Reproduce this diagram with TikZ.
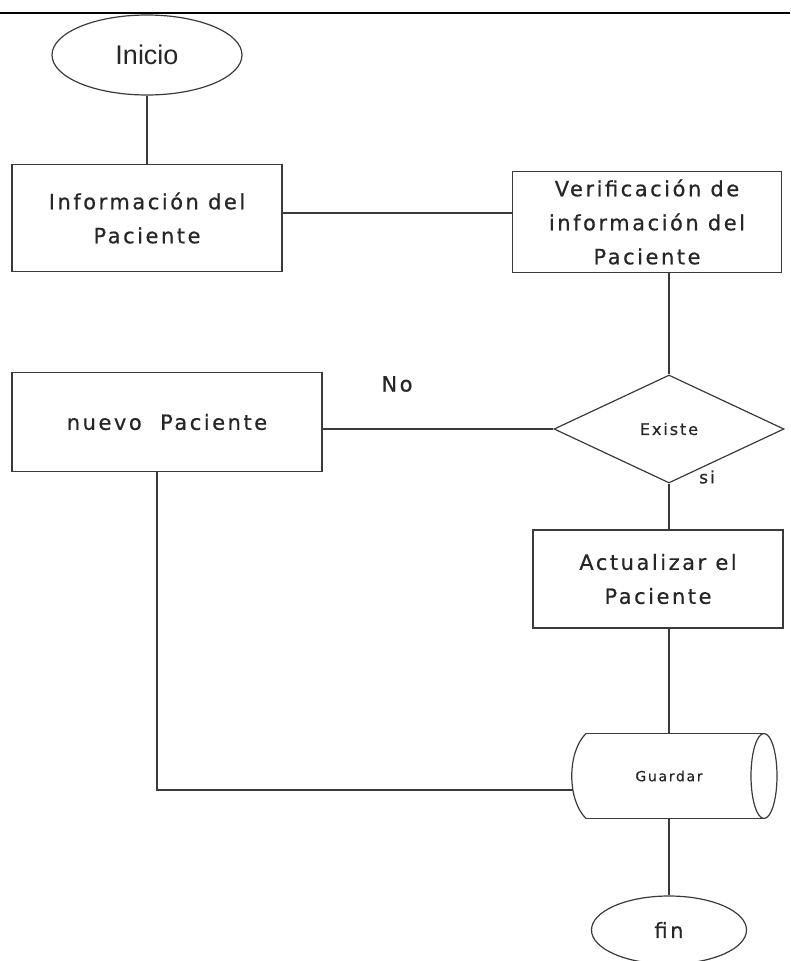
\documentclass[tikz,border=0pt]{standalone}
\usepackage{fontspec}
\setmainfont{DejaVu Sans}[LetterSpace=12, FakeBold=0.6]
\newfontfamily\iniciofont{Liberation Sans}
\usetikzlibrary{shapes.geometric}

\definecolor{linea}{HTML}{3A3A3A}
\definecolor{texto}{HTML}{262626}

\begin{document}
\begin{tikzpicture}[x=1pt,y=-1pt,
  conector/.style={draw=linea, line width=1.2pt},
  proceso/.style={draw=linea, line width=1.2pt, align=center, text=texto,
    font=\fontsize{21}{34}\selectfont},
  terminal/.style={ellipse, draw=linea, line width=1.2pt, inner sep=0pt, text=texto},
  decision/.style={diamond, draw=linea, line width=1.2pt, inner sep=0pt, aspect=2.13,
    minimum width=230pt, minimum height=108pt, text=texto, font=\fontsize{16}{18}\selectfont},
  etiqueta/.style={text=texto, font=\fontsize{21}{24}\selectfont}]
  \useasboundingbox (0,0) rectangle (790,961);
  \draw[line width=1.3pt] (0,13) -- (790,13);

  \node[terminal, minimum width=190pt, minimum height=80pt,
    font=\iniciofont\fontsize{27}{30}\selectfont] (inicio) at (147,55) {Inicio};
  \node[proceso, minimum width=270pt, minimum height=107pt] (info) at (147,218)
    {Información del\\Paciente};
  \node[proceso, minimum width=269pt, minimum height=101pt] (verif) at (647,222)
    {Verificación de\\información del\\Paciente};
  \node[decision] (existe) at (669,429) {Existe};
  \node[proceso, minimum width=310pt, minimum height=99pt] (nuevo) at (167,422)
    {nuevo~~Paciente};
  \node[proceso, minimum width=250pt, minimum height=98pt] (actualizar) at (658,579)
    {Actualizar el\\Paciente};
  \node[text=texto, font=\fontsize{14}{16}\selectfont, minimum width=192pt,
    minimum height=85pt] (guardar) at (669,776) {Guardar};
  \node[terminal, minimum width=155pt, minimum height=68pt,
    font=\fontsize{21}{24}\selectfont] (fin) at (669,930) {fin};

  \node[etiqueta] (no) at (397,384) {No};
  \node[etiqueta, font=\fontsize{17}{19}\selectfont] (si) at (707,477) {si};

  % cilindro de guardar
  \draw[conector] (586,733.5) -- (764,733.5) (586,818.5) -- (764,818.5);
  \draw[conector] (764,776) ellipse [x radius=13pt, y radius=42.5pt];
  \draw[conector] (586,733.5) .. controls (567,752) and (567,800) .. (586,818.5);

  % conectores
  \draw[conector] (inicio.south) -- (info.north);
  \draw[conector] ([yshift=5pt]info.east) -- ([yshift=5pt]info.east -| verif.west);
  \draw[conector] (verif.south -| existe.north) -- (existe.north);
  \draw[conector] (nuevo.east |- existe.west) -- (existe.west);
  \draw[conector] (existe.south) -- (existe.south |- actualizar.north);
  \draw[conector] (existe.south |- actualizar.south) -- (guardar.north);
  \draw[conector] (guardar.south) -- (fin.north);
  \draw[conector] ([xshift=-10pt]nuevo.south) |- ([yshift=-14pt]guardar.west);
\end{tikzpicture}
\end{document}
